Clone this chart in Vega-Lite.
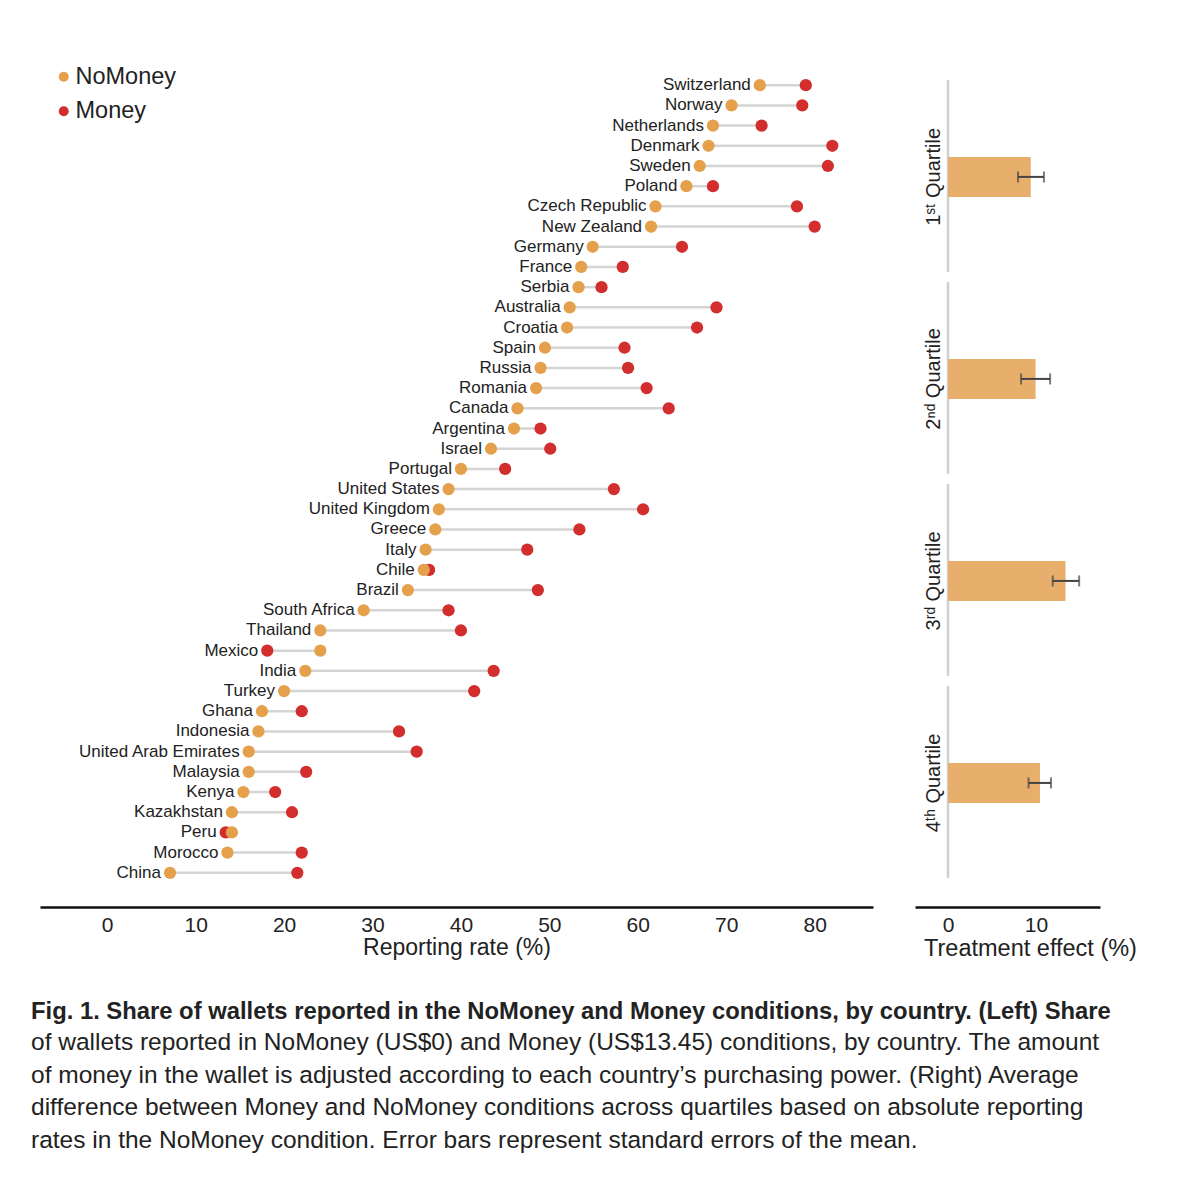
{
  "$schema": "https://vega.github.io/schema/vega-lite/v6.json",
  "padding": {"left": 31, "top": 65, "right": 10, "bottom": 10},
  "background": "white",
  "config": {
    "view": {"stroke": null},
    "font": "Liberation Sans",
    "axis": {"grid": false, "labelColor": "#222", "titleColor": "#222", "titleFontWeight": "normal", "labelFont": "Liberation Sans", "titleFont": "Liberation Sans"}
  },
  "title": {
    "text": "Fig. 1. Share of wallets reported in the NoMoney and Money conditions, by country. (Left) Share",
    "subtitle": [
      "of wallets reported in NoMoney (US$0) and Money (US$13.45) conditions, by country. The amount",
      "of money in the wallet is adjusted according to each country’s purchasing power. (Right) Average",
      "difference between Money and NoMoney conditions across quartiles based on absolute reporting",
      "rates in the NoMoney condition. Error bars represent standard errors of the mean."
    ],
    "orient": "bottom",
    "anchor": "start",
    "dx": -9,
    "offset": 40,
    "font": "Liberation Sans",
    "fontSize": 23.8,
    "fontWeight": "bold",
    "color": "#222",
    "subtitleFont": "Liberation Sans",
    "subtitleFontSize": 24.5,
    "subtitleColor": "#222",
    "subtitleLineHeight": 32.5,
    "subtitlePadding": 8
  },
  "hconcat": [
    {
      "width": 833,
      "height": 828,
      "data": {"values": [
        {"country": "Switzerland", "NoMoney": 73.8, "Money": 79.0},
        {"country": "Norway", "NoMoney": 70.6, "Money": 78.6},
        {"country": "Netherlands", "NoMoney": 68.5, "Money": 74.0},
        {"country": "Denmark", "NoMoney": 68.0, "Money": 82.0},
        {"country": "Sweden", "NoMoney": 67.0, "Money": 81.5},
        {"country": "Poland", "NoMoney": 65.5, "Money": 68.5},
        {"country": "Czech Republic", "NoMoney": 62.0, "Money": 78.0},
        {"country": "New Zealand", "NoMoney": 61.5, "Money": 80.0},
        {"country": "Germany", "NoMoney": 54.9, "Money": 65.0},
        {"country": "France", "NoMoney": 53.6, "Money": 58.3},
        {"country": "Serbia", "NoMoney": 53.3, "Money": 55.9},
        {"country": "Australia", "NoMoney": 52.3, "Money": 68.9},
        {"country": "Croatia", "NoMoney": 52.0, "Money": 66.7},
        {"country": "Spain", "NoMoney": 49.5, "Money": 58.5},
        {"country": "Russia", "NoMoney": 49.0, "Money": 58.9},
        {"country": "Romania", "NoMoney": 48.5, "Money": 61.0},
        {"country": "Canada", "NoMoney": 46.4, "Money": 63.5},
        {"country": "Argentina", "NoMoney": 46.0, "Money": 49.0},
        {"country": "Israel", "NoMoney": 43.4, "Money": 50.1},
        {"country": "Portugal", "NoMoney": 40.0, "Money": 45.0},
        {"country": "United States", "NoMoney": 38.6, "Money": 57.3},
        {"country": "United Kingdom", "NoMoney": 37.5, "Money": 60.6},
        {"country": "Greece", "NoMoney": 37.1, "Money": 53.4},
        {"country": "Italy", "NoMoney": 36.0, "Money": 47.5},
        {"country": "Chile", "NoMoney": 35.8, "Money": 36.4},
        {"country": "Brazil", "NoMoney": 34.0, "Money": 48.7},
        {"country": "South Africa", "NoMoney": 29.0, "Money": 38.6},
        {"country": "Thailand", "NoMoney": 24.1, "Money": 40.0},
        {"country": "Mexico", "NoMoney": 24.1, "Money": 18.1},
        {"country": "India", "NoMoney": 22.4, "Money": 43.7},
        {"country": "Turkey", "NoMoney": 20.0, "Money": 41.5},
        {"country": "Ghana", "NoMoney": 17.5, "Money": 22.0},
        {"country": "Indonesia", "NoMoney": 17.1, "Money": 33.0},
        {"country": "United Arab Emirates", "NoMoney": 16.0, "Money": 35.0},
        {"country": "Malaysia", "NoMoney": 16.0, "Money": 22.5},
        {"country": "Kenya", "NoMoney": 15.4, "Money": 19.0},
        {"country": "Kazakhstan", "NoMoney": 14.1, "Money": 20.9},
        {"country": "Peru", "NoMoney": 14.1, "Money": 13.4},
        {"country": "Morocco", "NoMoney": 13.6, "Money": 22.0},
        {"country": "China", "NoMoney": 7.1, "Money": 21.5}
      ]},
      "layer": [
        {
          "mark": {"type": "rule", "color": "#d4d4d4", "strokeWidth": 2.5},
          "encoding": {
            "y": {"field": "country", "type": "nominal", "sort": ["Switzerland","Norway","Netherlands","Denmark","Sweden","Poland","Czech Republic","New Zealand","Germany","France","Serbia","Australia","Croatia","Spain","Russia","Romania","Canada","Argentina","Israel","Portugal","United States","United Kingdom","Greece","Italy","Chile","Brazil","South Africa","Thailand","Mexico","India","Turkey","Ghana","Indonesia","United Arab Emirates","Malaysia","Kenya","Kazakhstan","Peru","Morocco","China"], "scale": {"type": "point", "padding": 1}, "axis": null},
            "x": {"field": "NoMoney", "type": "quantitative", "scale": {"domain": [-7.6, 86.6], "nice": false, "zero": false},
              "axis": {"values": [0,10,20,30,40,50,60,70,80], "title": "Reporting rate (%)", "offset": 14, "ticks": false, "domainColor": "#111", "domainWidth": 2.5, "labelFontSize": 21, "labelPadding": 7, "titleFontSize": 23, "titlePadding": 1}},
            "x2": {"field": "Money"}
          }
        },
        {
          "transform": [{"fold": ["Money", "NoMoney"], "as": ["condition", "value"]}],
          "mark": {"type": "circle", "size": 150, "opacity": 1},
          "encoding": {
            "y": {"field": "country", "type": "nominal", "sort": ["Switzerland","Norway","Netherlands","Denmark","Sweden","Poland","Czech Republic","New Zealand","Germany","France","Serbia","Australia","Croatia","Spain","Russia","Romania","Canada","Argentina","Israel","Portugal","United States","United Kingdom","Greece","Italy","Chile","Brazil","South Africa","Thailand","Mexico","India","Turkey","Ghana","Indonesia","United Arab Emirates","Malaysia","Kenya","Kazakhstan","Peru","Morocco","China"]},
            "x": {"field": "value", "type": "quantitative"},
            "color": {"field": "condition", "type": "nominal", "scale": {"domain": ["NoMoney", "Money"], "range": ["#E5A04C", "#D22E2E"]},
              "legend": {"title": null, "orient": "none", "legendX": 12, "legendY": 0, "labelFontSize": 23.5, "labelFont": "Liberation Sans", "labelColor": "#222", "symbolSize": 100, "symbolType": "circle", "rowPadding": 9.5, "labelOffset": 0}}
          }
        },
        {
          "transform": [
            {"fold": ["Money", "NoMoney"], "as": ["condition", "value"]},
            {"aggregate": [{"op": "min", "field": "value", "as": "minv"}], "groupby": ["country"]}
          ],
          "mark": {"type": "text", "align": "right", "baseline": "middle", "dx": -9, "fontSize": 17, "font": "Liberation Sans", "color": "#222"},
          "encoding": {
            "y": {"field": "country", "type": "nominal", "sort": ["Switzerland","Norway","Netherlands","Denmark","Sweden","Poland","Czech Republic","New Zealand","Germany","France","Serbia","Australia","Croatia","Spain","Russia","Romania","Canada","Argentina","Israel","Portugal","United States","United Kingdom","Greece","Italy","Chile","Brazil","South Africa","Thailand","Mexico","India","Turkey","Ghana","Indonesia","United Arab Emirates","Malaysia","Kenya","Kazakhstan","Peru","Morocco","China"]},
            "x": {"field": "minv", "type": "quantitative"},
            "text": {"field": "country"}
          }
        }
      ]
    },
    {
      "width": 185,
      "height": 842,
      "data": {"values": [
        {"q": "1ˢᵗ Quartile", "effect": 9.4, "lo": 7.95, "hi": 10.9},
        {"q": "2ⁿᵈ Quartile", "effect": 9.95, "lo": 8.3, "hi": 11.6},
        {"q": "3ʳᵈ Quartile", "effect": 13.35, "lo": 11.9, "hi": 14.9},
        {"q": "4ᵗʰ Quartile", "effect": 10.45, "lo": 9.15, "hi": 11.7}
      ]},
      "layer": [
        {
          "mark": {"type": "rule", "color": "#d0d0d0", "strokeWidth": 2.5},
          "encoding": {
            "x": {"datum": 0, "type": "quantitative"},
            "y": {"field": "q", "type": "nominal", "bandPosition": -1.925},
            "y2": {"field": "q", "bandPosition": 2.875}
          }
        },
        {
          "mark": {"type": "bar", "color": "#E8AE6C"},
          "encoding": {
            "x": {"field": "effect", "type": "quantitative", "scale": {"domain": [-3.75, 17.27], "nice": false},
              "axis": {"values": [0, 10], "title": "Treatment effect (%)", "ticks": false, "domainColor": "#111", "domainWidth": 2.5, "labelFontSize": 21, "labelPadding": 7, "titleFontSize": 23.5, "titlePadding": 1, "titleX": 115}},
            "y": {"field": "q", "type": "nominal", "sort": null, "scale": {"type": "band", "paddingInner": 0.802, "paddingOuter": 0.485, "align": 0.469},
              "axis": {"title": null, "orient": "left", "offset": -33, "domain": false, "ticks": false, "labelAngle": -90, "labelAlign": "center", "labelBaseline": "bottom", "labelPadding": 5, "labelFontSize": 20, "labelColor": "#222"}}
          }
        },
        {
          "mark": {"type": "rule", "color": "#444", "strokeWidth": 2},
          "encoding": {
            "x": {"field": "lo", "type": "quantitative"},
            "x2": {"field": "hi"},
            "y": {"field": "q", "type": "nominal"}
          }
        },
        {
          "mark": {"type": "tick", "orient": "vertical", "size": 11, "thickness": 2, "color": "#444"},
          "encoding": {"x": {"field": "lo", "type": "quantitative"}, "y": {"field": "q", "type": "nominal"}}
        },
        {
          "mark": {"type": "tick", "orient": "vertical", "size": 11, "thickness": 2, "color": "#444"},
          "encoding": {"x": {"field": "hi", "type": "quantitative"}, "y": {"field": "q", "type": "nominal"}}
        }
      ]
    }
  ],
  "spacing": 42
}
